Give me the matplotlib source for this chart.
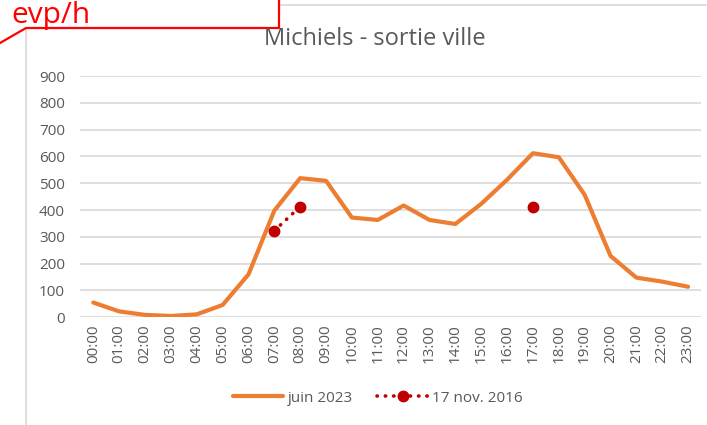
import matplotlib
matplotlib.use("Agg")
import matplotlib.pyplot as plt
from matplotlib.lines import Line2D
import numpy as np

plt.rcParams['font.family'] = ['Open Sans', 'DejaVu Sans']

hours = [f"{h:02d}:00" for h in range(24)]
juin_2023 = [55, 22, 9, 5, 11, 46, 160, 398, 519, 509, 372, 363,
             417, 363, 348, 423, 513, 612, 597, 457, 229, 148, 133, 114]
nov_2016 = [np.nan] * 24
nov_2016[7] = 323
nov_2016[8] = 413
nov_2016[17] = 411

W, H = 707, 425
fig = plt.figure(figsize=(W / 100, H / 100), dpi=100)
ax = fig.add_axes([80.4 / W, 1 - 317.3 / H, (701 - 80.4) / W, (317.3 - 76) / H])

gray_txt = '#595959'
orange = '#ED7D31'
red = '#C00000'

x = np.arange(len(hours))
ax.plot(x, juin_2023, color=orange, lw=3.0, solid_joinstyle='round',
        solid_capstyle='round', zorder=3)
ax.plot(x, nov_2016, color=red, lw=2.6, ls=(0, (0.1, 2.2)),
        dash_capstyle='round', marker='o', ms=7.5, mec=red, mfc=red, zorder=4)

ax.set_xlim(-0.5, 23.5)
ax.set_ylim(0, 900)
ax.set_yticks(range(0, 901, 100))
ax.set_xticks(x)
ax.set_xticklabels(hours, rotation=90)
ax.yaxis.grid(True, color='#D9D9D9', lw=1.2)
ax.set_axisbelow(True)
for s in ax.spines.values():
    s.set_visible(False)
ax.tick_params(axis='both', length=0, colors=gray_txt, labelsize=11)
ax.tick_params(axis='y', pad=11)
ax.tick_params(axis='x', pad=5)

fig.text(375 / W, 1 - 39 / H, "Michiels - sortie ville", ha='center', va='center',
         fontsize=17, color=gray_txt)

handles = [
    Line2D([], [], color=orange, lw=3.0, solid_capstyle='round'),
    Line2D([], [], color=red, lw=2.6, ls=(0, (0.1, 2.2)), dash_capstyle='round',
           marker='o', ms=7.5),
]
fig.legend(handles, ["juin 2023", "17 nov. 2016"], loc='center',
           bbox_to_anchor=(378 / W, 1 - 398 / H), ncol=2, frameon=False,
           fontsize=11, labelcolor=gray_txt, handlelength=3.3,
           handletextpad=0.3, columnspacing=1.6, numpoints=1)

# chart area border (partially visible)
fig.add_artist(Line2D([279 / W, 1], [1 - 5 / H, 1 - 5 / H], color='#D9D9D9',
                      lw=1.2, transform=fig.transFigure))
fig.add_artist(Line2D([26 / W, 26 / W], [1 - 28 / H, 0], color='#D9D9D9',
                      lw=1.2, transform=fig.transFigure))

# unit callout
fig.add_artist(Line2D([0, 26 / W, 279 / W, 279 / W],
                      [1 - 43 / H, 1 - 28 / H, 1 - 28 / H, 1.0],
                      color='#FF0000', lw=1.6, transform=fig.transFigure))
fig.text(11 / W, 1 - 23 / H, "evp/h", ha='left', va='baseline', fontsize=21.5,
         color='#FF0000')

fig.savefig("out.png", dpi=100)
